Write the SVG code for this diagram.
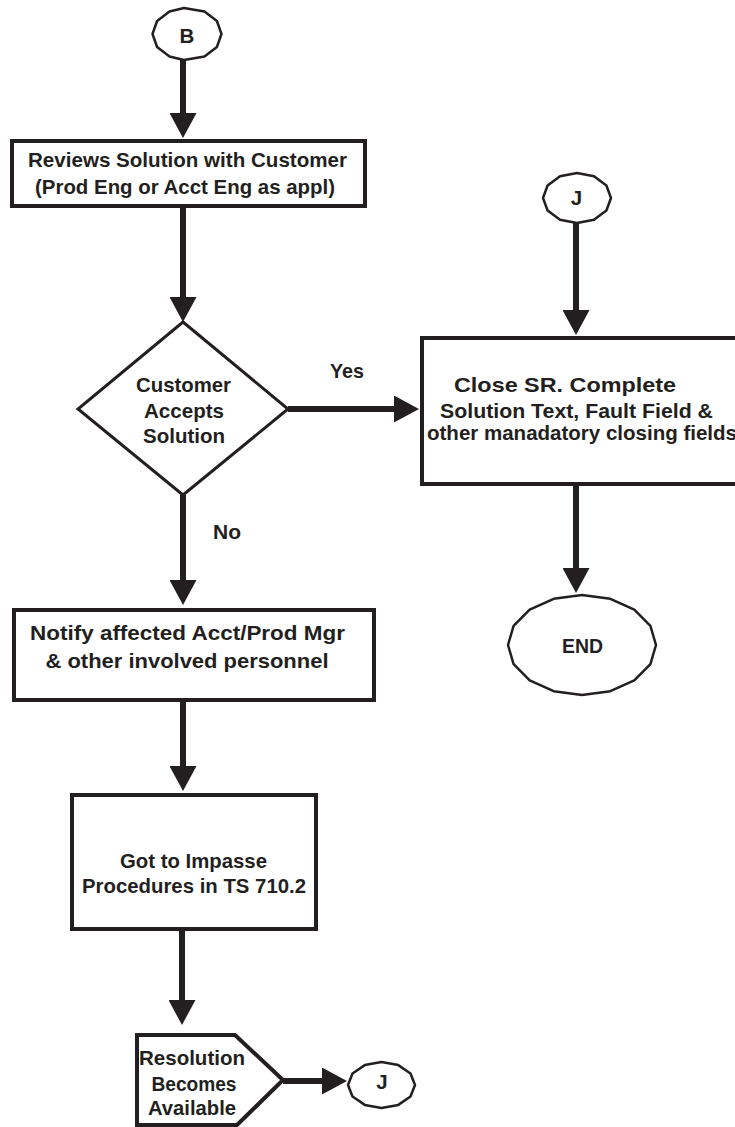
<svg xmlns="http://www.w3.org/2000/svg" width="735" height="1127" viewBox="0 0 735 1127">
  <style>
    .box { fill: #ffffff; stroke: #231f20; stroke-width: 4; }
    .dia { fill: #ffffff; stroke: #231f20; stroke-width: 3; stroke-linejoin: miter; }
    .con { fill: #ffffff; stroke: #231f20; stroke-width: 2.5; stroke-linejoin: round; }
    .edge { fill: none; stroke: #231f20; stroke-width: 6; marker-end: url(#arrow); }
    text { font-family: "Liberation Sans", Arial, Helvetica, sans-serif; font-weight: bold; font-size: 20.5px; fill: #231f20; text-anchor: middle; }
  </style>
  <defs>
    <marker id="arrow" markerUnits="userSpaceOnUse" markerWidth="25" markerHeight="27" viewBox="0 0 25 27" refX="10" refY="13.5" orient="auto">
      <path d="M0,0 L25,13.5 L0,27 Z" fill="#231f20"/>
    </marker>
  </defs>
  <rect width="735" height="1127" fill="#ffffff"/>

  <!-- connectors -->
  <g id="connectors">
    <line class="edge" x1="183" y1="60" x2="183" y2="123"/>
    <line class="edge" x1="183" y1="208" x2="183" y2="307"/>
    <line class="edge" x1="288" y1="409" x2="404" y2="409"/>
    <line class="edge" x1="576" y1="223" x2="576" y2="320"/>
    <line class="edge" x1="576" y1="486" x2="576" y2="578"/>
    <line class="edge" x1="183" y1="495" x2="183" y2="590"/>
    <line class="edge" x1="183" y1="702" x2="183" y2="776"/>
    <line class="edge" x1="182" y1="931" x2="182" y2="1010"/>
    <line class="edge" x1="283" y1="1081" x2="332" y2="1081"/>
    <text x="347" y="378" textLength="34" lengthAdjust="spacingAndGlyphs">Yes</text>
    <text x="227" y="539" textLength="28" lengthAdjust="spacingAndGlyphs">No</text>
  </g>

  <!-- off-page connector B -->
  <g id="node-b">
    <polygon class="con" points="221.5,34 216.9,47 204.5,56.5 184,60 169.5,56.5 157.1,47 152.5,34 157.1,21 169.5,11.5 184,8 204.5,11.5 216.9,21"/>
    <text x="187" y="43" font-size="19.5">B</text>
  </g>

  <!-- review step -->
  <g id="node-review">
    <rect class="box" x="12" y="141" width="353" height="65"/>
    <text x="187.5" y="167" textLength="319" lengthAdjust="spacingAndGlyphs">Reviews Solution with Customer</text>
    <text x="185" y="194" textLength="300" lengthAdjust="spacingAndGlyphs">(Prod Eng or Acct Eng as appl)</text>
  </g>

  <!-- decision -->
  <g id="node-decision">
    <polygon class="dia" points="183,322 288,409 183,495 78,409"/>
    <text x="183.5" y="392" textLength="95" lengthAdjust="spacingAndGlyphs">Customer</text>
    <text x="184" y="417.5" textLength="80" lengthAdjust="spacingAndGlyphs">Accepts</text>
    <text x="184" y="443" textLength="82" lengthAdjust="spacingAndGlyphs">Solution</text>
  </g>

  <!-- off-page connector J (entry) -->
  <g id="node-j-top">
    <polygon class="con" points="611,198 606.4,210.5 594,219.7 577,223 560,219.7 547.6,210.5 543,198 547.6,185.5 560,176.3 577,173 594,176.3 606.4,185.5"/>
    <text x="576.5" y="205" font-size="17">J</text>
  </g>

  <!-- close step -->
  <g id="node-close">
    <rect class="box" x="422" y="338" width="330" height="146"/>
    <text x="565" y="392" textLength="222" lengthAdjust="spacingAndGlyphs">Close SR. Complete</text>
    <text x="576.5" y="418" textLength="273" lengthAdjust="spacingAndGlyphs">Solution Text, Fault Field &amp;</text>
    <text x="582" y="440" textLength="310" lengthAdjust="spacingAndGlyphs">other manadatory closing fields</text>
  </g>

  <!-- terminator -->
  <g id="node-end">
    <polygon class="con" points="656,645 650.4,664.1 634.3,680.4 610.3,691.2 582,695 553.7,691.2 529.7,680.4 513.6,664.1 508,645 513.6,625.9 529.7,609.6 553.7,598.8 582,595 610.3,598.8 634.3,609.6 650.4,625.9"/>
    <text x="582.5" y="653" textLength="41" lengthAdjust="spacingAndGlyphs">END</text>
  </g>

  <!-- notify step -->
  <g id="node-notify">
    <rect class="box" x="14" y="610" width="360" height="90"/>
    <text x="187.5" y="640" textLength="315" lengthAdjust="spacingAndGlyphs">Notify affected Acct/Prod Mgr</text>
    <text x="187" y="668" textLength="283" lengthAdjust="spacingAndGlyphs">&amp; other involved personnel</text>
  </g>

  <!-- impasse step -->
  <g id="node-impasse">
    <rect class="box" x="72" y="795" width="244" height="134"/>
    <text x="193.5" y="868" textLength="147" lengthAdjust="spacingAndGlyphs">Got to Impasse</text>
    <text x="194" y="893" textLength="224" lengthAdjust="spacingAndGlyphs">Procedures in TS 710.2</text>
  </g>

  <!-- resolution event -->
  <g id="node-resolution">
    <polygon class="box" points="137,1035 235,1035 283,1080 237,1125 137,1125"/>
    <text x="192" y="1065" textLength="106" lengthAdjust="spacingAndGlyphs">Resolution</text>
    <text x="194" y="1091" textLength="85" lengthAdjust="spacingAndGlyphs">Becomes</text>
    <text x="192" y="1115" textLength="88" lengthAdjust="spacingAndGlyphs">Available</text>
  </g>

  <!-- off-page connector J (exit) -->
  <g id="node-j-bottom">
    <polygon class="con" points="415,1085 410.5,1096.5 398.3,1104.9 381.5,1108 364.8,1104.9 352.5,1096.5 348,1085 352.5,1073.5 364.8,1065.1 381.5,1062 398.3,1065.1 410.5,1073.5"/>
    <text x="382" y="1089" font-size="15">J</text>
  </g>
</svg>
